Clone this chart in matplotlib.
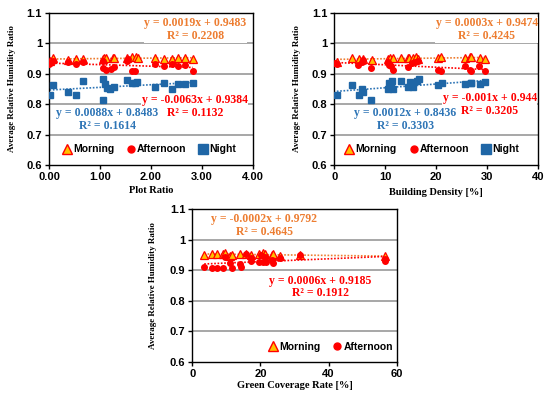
import numpy as np
import matplotlib
matplotlib.use("Agg")
import matplotlib.pyplot as plt
from matplotlib.lines import Line2D

# ---- data ----
# Plot ratio panel
pr_morning_x = [0.02, 0.07, 0.37, 0.52, 0.67, 1.05, 1.08, 1.12, 1.25, 1.28, 1.52, 1.63, 1.71, 1.75, 2.08, 2.25, 2.42, 2.52, 2.67, 2.82]
pr_morning_y = [0.943, 0.952, 0.945, 0.949, 0.950, 0.948, 0.953, 0.951, 0.952, 0.951, 0.953, 0.955, 0.954, 0.952, 0.951, 0.950, 0.950, 0.951, 0.953, 0.950]
pr_after_x = [0.00, 0.02, 0.07, 0.37, 0.52, 0.67, 1.05, 1.06, 1.12, 1.22, 1.27, 1.52, 1.55, 1.63, 1.68, 2.08, 2.25, 2.42, 2.52, 2.67, 2.82]
pr_after_y = [0.931, 0.936, 0.941, 0.940, 0.933, 0.938, 0.943, 0.919, 0.913, 0.915, 0.922, 0.943, 0.947, 0.909, 0.909, 0.933, 0.926, 0.933, 0.926, 0.928, 0.908]
pr_night_x = [0.01, 0.07, 0.37, 0.52, 0.67, 1.05, 1.05, 1.10, 1.13, 1.20, 1.27, 1.52, 1.63, 1.68, 1.73, 2.08, 2.25, 2.42, 2.52, 2.67, 2.82]
pr_night_y = [0.830, 0.864, 0.839, 0.831, 0.877, 0.884, 0.814, 0.866, 0.852, 0.851, 0.857, 0.878, 0.870, 0.869, 0.874, 0.856, 0.871, 0.851, 0.866, 0.867, 0.870]

# Building density panel
bd_morning_x = [0.5, 3.5, 4.8, 5.7, 7.3, 10.6, 10.9, 11.6, 13.0, 14.4, 14.7, 15.5, 16.1, 16.5, 20.3, 21.0, 25.6, 26.6, 26.8, 28.6, 29.5]
bd_morning_y = [0.940, 0.951, 0.948, 0.950, 0.946, 0.948, 0.951, 0.953, 0.952, 0.951, 0.953, 0.952, 0.954, 0.950, 0.951, 0.954, 0.951, 0.955, 0.954, 0.951, 0.949]
bd_after_x = [0.1, 0.5, 4.7, 5.5, 5.7, 7.2, 10.6, 10.7, 11.2, 11.6, 14.5, 15.2, 15.8, 16.5, 20.3, 21.0, 25.6, 26.6, 26.9, 28.4, 29.5]
bd_after_y = [0.935, 0.932, 0.930, 0.938, 0.946, 0.919, 0.938, 0.930, 0.924, 0.913, 0.921, 0.935, 0.940, 0.943, 0.913, 0.908, 0.924, 0.911, 0.908, 0.926, 0.908]
bd_night_x = [0.5, 3.5, 4.8, 5.5, 5.7, 7.2, 10.6, 10.7, 11.2, 11.4, 11.6, 13.0, 14.5, 14.8, 15.5, 16.3, 16.6, 20.3, 21.2, 25.6, 26.8, 26.9, 28.6, 29.5]
bd_night_y = [0.829, 0.864, 0.831, 0.850, 0.840, 0.814, 0.850, 0.871, 0.856, 0.877, 0.850, 0.877, 0.858, 0.874, 0.856, 0.877, 0.883, 0.864, 0.869, 0.866, 0.869, 0.871, 0.867, 0.872]

# Green coverage panel
gc_morning_x = [3.5, 5.7, 7.2, 9.1, 9.6, 11.1, 11.6, 14.0, 15.8, 17.3, 19.7, 20.7, 21.4, 23.3, 23.8, 25.8, 31.5, 56.7]
gc_morning_y = [0.951, 0.954, 0.954, 0.954, 0.955, 0.948, 0.950, 0.953, 0.953, 0.950, 0.953, 0.955, 0.952, 0.951, 0.952, 0.946, 0.950, 0.946]
gc_after_x = [3.5, 5.7, 7.2, 9.1, 9.6, 11.1, 11.6, 14.0, 14.3, 15.8, 17.3, 17.3, 19.7, 20.1, 20.9, 21.4, 21.7, 23.3, 23.8, 25.8, 31.5, 56.7, 56.7]
gc_after_y = [0.912, 0.906, 0.906, 0.906, 0.945, 0.923, 0.906, 0.920, 0.912, 0.953, 0.939, 0.930, 0.928, 0.950, 0.928, 0.945, 0.928, 0.934, 0.923, 0.939, 0.950, 0.930, 0.936]

# equations printed on the chart
pr_eq = ["y = 0.0019x + 0.9483\nR² = 0.2208", "y = -0.0063x + 0.9384\nR² = 0.1132", "y = 0.0088x + 0.8483\nR² = 0.1614"]
bd_eq = ["y = 0.0003x + 0.9474\nR² = 0.4245", "y = -0.001x + 0.944\nR² = 0.3205", "y = 0.0012x + 0.8436\nR² = 0.3303"]
gc_eq = ["y = -0.0002x + 0.9792\nR² = 0.4645", "y = 0.0006x + 0.9185\nR² = 0.1912"]

ORANGE = "#ED7D31"
RED = "#FF0000"
BLUE = "#2E75B6"
NAVY = "#1F66A6"
YELLOW = "#FFC000"
SERIF = "Liberation Serif"
SANS = "Liberation Sans"


def trend(ax, x, y, color):
    k, b = np.polyfit(x, y, 1)
    xs = np.array([min(x), max(x)])
    ax.plot(xs, k * xs + b, linestyle=(0, (1, 1)), color=color, lw=1.2, zorder=2)


def base_axes(ax, xlim, xticks, xfmt, xlabel):
    ax.set_xlim(*xlim)
    ax.set_ylim(0.6, 1.1)
    ax.set_xticks(xticks)
    ax.set_xticklabels([xfmt.format(t) for t in xticks], fontfamily=SANS, fontweight="bold", fontsize=8)
    yt = [0.6, 0.7, 0.8, 0.9, 1.0, 1.1]
    ax.set_yticks(yt)
    ax.set_yticklabels(["0.6", "0.7", "0.8", "0.9", "1", "1.1"], fontfamily=SANS, fontweight="bold", fontsize=8)
    ax.tick_params(direction="out", length=3, width=1, pad=2)
    for y in [0.7, 0.8, 0.9, 1.0]:
        ax.axhline(y, color="#A0A0A0", lw=1.3, zorder=0)
    for s in ax.spines.values():
        s.set_color("black")
        s.set_linewidth(1.0)
    ax.set_xlabel(xlabel, fontfamily=SERIF, fontweight="bold", fontsize=7.5)
    ax.set_ylabel("Average Relative Humidity Ratio", fontfamily=SERIF, fontweight="bold", fontsize=6.5)


def points(ax, mx, my, ax_, ay, nx=None, ny=None):
    ax.plot(mx, my, "^", ms=5.2, mfc=YELLOW, mec=RED, mew=0.9, ls="none", zorder=3)
    ax.plot(ax_, ay, "o", ms=4, color=RED, ls="none", zorder=4)
    if nx is not None:
        ax.plot(nx, ny, "s", ms=5, color=NAVY, ls="none", zorder=5)


def eq(ax, x, y, s, color):
    ax.text(x, y, s, color=color, fontfamily=SERIF, fontweight="bold", fontsize=8.5,
            ha="center", va="center", linespacing=1.1, zorder=6,
            bbox=dict(facecolor="white", edgecolor="none", pad=0.3))


def legend(ax, with_night, anchor):
    h = [Line2D([], [], marker="^", ms=7, mfc=YELLOW, mec=RED, mew=1, ls="none"),
         Line2D([], [], marker="o", ms=5, color=RED, ls="none")]
    labels = ["Morning", "Afternoon"]
    if with_night:
        h.append(Line2D([], [], marker="s", ms=6.5, color=NAVY, ls="none"))
        labels.append("Night")
    leg = ax.legend(h, labels, loc="center", bbox_to_anchor=anchor, ncol=len(h), frameon=False,
                    handletextpad=0.1, columnspacing=1.1, handlelength=1.0,
                    prop={"family": SANS, "weight": "bold", "size": 7.5})
    leg.set_zorder(7)


fig = plt.figure(figsize=(5.5, 3.99), dpi=100)

# ---- Plot ratio ----
ax1 = fig.add_axes([0.0891, 0.5865, 0.3709, 0.381])
base_axes(ax1, (0, 4), [0, 1, 2, 3, 4], "{:.2f}", "Plot Ratio")
trend(ax1, pr_morning_x, pr_morning_y, ORANGE)
trend(ax1, pr_after_x, pr_after_y, RED)
trend(ax1, pr_night_x, pr_night_y, BLUE)
points(ax1, pr_morning_x, pr_morning_y, pr_after_x, pr_after_y, pr_night_x, pr_night_y)
eq(ax1, 2.87, 1.045, pr_eq[0], ORANGE)
eq(ax1, 2.86, 0.792, pr_eq[1], RED)
eq(ax1, 1.14, 0.749, pr_eq[2], BLUE)
legend(ax1, True, (0.49, 0.104))

# ---- Building density ----
ax2 = fig.add_axes([0.6078, 0.5865, 0.3709, 0.381])
base_axes(ax2, (0, 40), [0, 10, 20, 30, 40], "{:.0f}", "Building Density [%]")
trend(ax2, bd_morning_x, bd_morning_y, ORANGE)
trend(ax2, bd_after_x, bd_after_y, RED)
trend(ax2, bd_night_x, bd_night_y, BLUE)
points(ax2, bd_morning_x, bd_morning_y, bd_after_x, bd_after_y, bd_night_x, bd_night_y)
eq(ax2, 29.9, 1.045, bd_eq[0], ORANGE)
eq(ax2, 30.5, 0.800, bd_eq[1], RED)
eq(ax2, 13.9, 0.750, bd_eq[2], BLUE)
legend(ax2, True, (0.477, 0.104))

# ---- Green coverage ----
ax3 = fig.add_axes([0.3496, 0.0935, 0.3716, 0.382])
base_axes(ax3, (0, 60), [0, 20, 40, 60], "{:.0f}", "Green Coverage Rate [%]")
trend(ax3, gc_morning_x, gc_morning_y, ORANGE)
trend(ax3, gc_after_x, gc_after_y, RED)
points(ax3, gc_morning_x, gc_morning_y, gc_after_x, gc_after_y)
eq(ax3, 21.1, 1.046, gc_eq[0], ORANGE)
eq(ax3, 37.5, 0.845, gc_eq[1], RED)
legend(ax3, False, (0.675, 0.098))

for a, lx, ly in [(ax1, -0.18, 0.5), (ax2, -0.184, 0.5), (ax3, -0.19, 0.5)]:
    a.yaxis.set_label_coords(lx, ly)
ax1.xaxis.set_label_coords(0.5, -0.165)
ax2.xaxis.set_label_coords(0.5, -0.18)
ax3.xaxis.set_label_coords(0.5, -0.155)
for a in (ax1, ax2, ax3):
    a.xaxis.label.set_va("center")
    a.yaxis.label.set_va("center")

fig.savefig("out.png", dpi=100)
